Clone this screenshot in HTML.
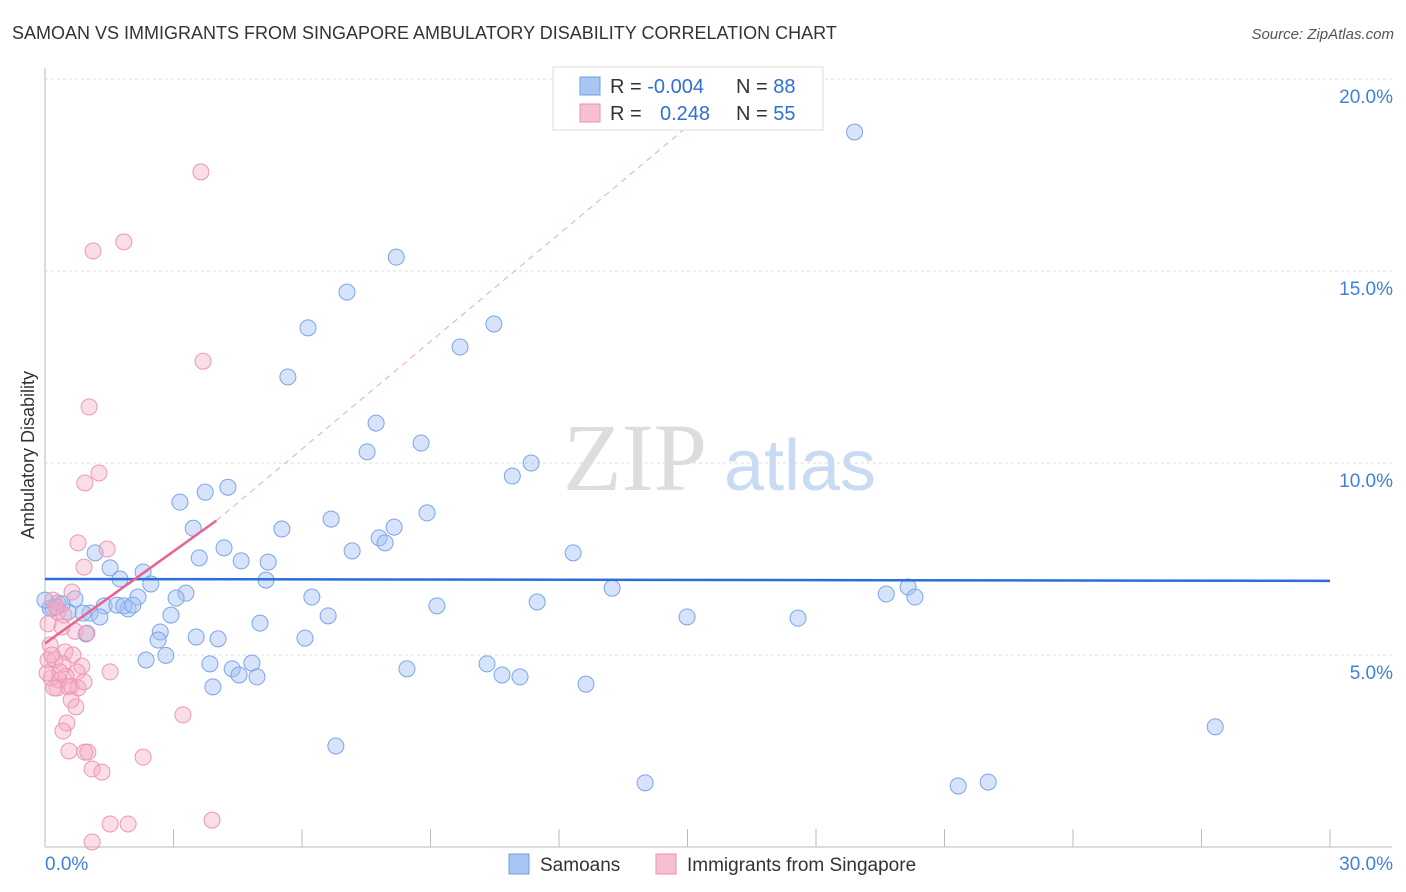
<!DOCTYPE html>
<html><head><meta charset="utf-8"><style>
body{margin:0;background:#fff;font-family:"Liberation Sans",sans-serif;}
svg{display:block}
</style></head><body>
<svg id="chart" width="1406" height="892" xmlns="http://www.w3.org/2000/svg">
<text x="12" y="39" font-size="18" fill="#333">SAMOAN VS IMMIGRANTS FROM SINGAPORE AMBULATORY DISABILITY CORRELATION CHART</text>
<text x="1394" y="39" font-size="15" fill="#555" font-style="italic" text-anchor="end">Source: ZipAtlas.com</text>
<text x="635" y="490" font-size="96" fill="#ddd" font-family="Liberation Serif,serif" text-anchor="middle">ZIP</text>
<text x="800" y="490" font-size="72" fill="#c9daf3" text-anchor="middle">atlas</text>
<text transform="translate(34,455) rotate(-90)" font-size="18" fill="#333" text-anchor="middle">Ambulatory Disability</text>
<g id="grid"></g><g id="marks"></g>
<g>
<rect x="553" y="67" width="270" height="63" fill="#fff" stroke="#ddd"/>
<rect x="580" y="77" width="20" height="18" fill="#a9c6f2" stroke="#6f9fe0"/>
<rect x="580" y="104" width="20" height="18" fill="#f6bfd2" stroke="#e890b0"/>
<text x="610" y="93" font-size="20" fill="#333">R = <tspan fill="#2f6fd6">-0.004</tspan><tspan x="736">N = </tspan><tspan fill="#2f6fd6">88</tspan></text>
<text x="610" y="120" font-size="20" fill="#333">R = <tspan x="660" fill="#2f6fd6">0.248</tspan><tspan x="736">N = </tspan><tspan fill="#2f6fd6">55</tspan></text>
</g>
<g>
<rect x="509" y="854" width="20" height="20" fill="#a9c6f2" stroke="#6f9fe0"/>
<text x="540" y="871" font-size="19" fill="#333">Samoans</text>
<rect x="656" y="854" width="20" height="20" fill="#f6bfd2" stroke="#e890b0"/>
<text x="687" y="871" font-size="19" fill="#333">Immigrants from Singapore</text>
</g>
</svg>
<script>
const xTicks=[0,30];
const yTicks=[5,10,15,20];
const samoanX=[18.9,8.2,7.05,6.14,10.48,9.69,5.67,7.73,8.78,7.52,11.35,10.91,4.27,3.74,3.15,8.92,6.68,3.46,5.53,8.15,7.8,7.94,7.17,12.33,4.18,3.6,4.58,5.21,1.17,1.52,2.29,1.75,2.47,5.16,2.17,3.29,3.06,13.24,20.15,19.64,20.31,6.23,11.49,9.15,0.7,0.3,0.19,0.54,1.05,1.38,1.68,1.94,1.84,2.05,0.89,1.28,2.94,6.61,14.99,17.58,5.02,2.69,0.96,2.64,3.53,4.04,6.07,2.82,2.36,4.83,3.85,4.37,4.53,4.95,10.32,8.45,10.67,11.09,3.92,12.63,27.32,6.79,14.01,21.32,22.02,0.12,0,0.4];
const samoanY=[18.62,15.36,14.45,13.52,13.62,13.02,12.24,11.04,10.52,10.29,10.0,9.66,9.37,9.24,8.98,8.7,8.54,8.3,8.28,8.33,8.05,7.92,7.71,7.66,7.79,7.53,7.45,7.42,7.66,7.27,7.16,6.98,6.85,6.95,6.51,6.61,6.48,6.74,6.77,6.59,6.51,6.51,6.38,6.28,6.46,6.35,6.22,6.12,6.09,6.28,6.3,6.2,6.28,6.3,6.09,5.99,6.04,6.02,5.99,5.96,5.83,5.6,5.55,5.39,5.47,5.42,5.44,4.99,4.87,4.79,4.77,4.64,4.48,4.43,4.77,4.64,4.48,4.43,4.17,4.24,3.13,2.63,1.67,1.59,1.69,6.22,6.43,6.33];
const singX=[3.64,1.84,1.12,3.69,1.03,1.26,0.93,0.77,1.45,0.91,0.63,0.19,0.30,0.44,0.07,0.40,0.70,0.98,0.12,0.47,0.65,0.07,0.23,0.42,0.86,0.75,1.52,0.49,0.14,0.33,0.61,0.77,0.91,0.28,0.54,0.61,0.72,0.51,0.42,0.56,0.93,1.0,2.29,1.10,1.33,3.22,1.52,1.94,3.90,1.10,0.16,0.05,0.21,0.35,0.26];
const singY=[17.58,15.76,15.52,12.65,11.46,9.74,9.48,7.92,7.76,7.29,6.64,6.43,6.12,6.04,5.81,5.73,5.62,5.57,5.26,5.08,5.0,4.87,4.87,4.77,4.71,4.56,4.56,4.45,4.4,4.35,4.19,4.14,4.3,4.14,4.17,3.83,3.65,3.23,3.02,2.5,2.47,2.47,2.34,2.03,1.95,3.44,0.60,0.60,0.70,0.13,5.0,4.53,4.14,4.56,6.25];
const blueLine=[6.98,6.93];
const pinkLine=[5.3,8.5];
const pinkExt=[14.9,18.67];
const X0=45,X1=1330,Y0=847,Y20=79;
const xs=v=>X0+(X1-X0)*v/30;
const ys=v=>Y0-(Y0-Y20)*v/20;
const NS="http://www.w3.org/2000/svg";
function mk(t,a,p){const e=document.createElementNS(NS,t);for(const k in a)e.setAttribute(k,a[k]);p.appendChild(e);return e;}
const grid=document.getElementById('grid'),marks=document.getElementById('marks');
yTicks.forEach(v=>{
 const l=mk('line',{x1:45,x2:1392,y1:ys(v),y2:ys(v),stroke:'#ddd','stroke-dasharray':'3,3'},grid);
 
 
 const t=mk('text',{x:1393,y:ys(v)+24,'font-size':19,fill:'#3f7fe0','text-anchor':'end'},grid);
 t.textContent=v.toFixed(1)+'%';
 
 
});
mk('line',{x1:45,x2:45,y1:68,y2:847,stroke:'#bbb'},grid);
mk('line',{x1:45,x2:1392,y1:847,y2:847,stroke:'#bbb'},grid);
for(let i=0;i<=10;i++){mk('line',{x1:xs(i*3),x2:xs(i*3),y1:829,y2:847,stroke:'#bbb'},grid);}
xTicks.forEach((v,i)=>{
 const t=mk('text',{x:i==0?45:1393,y:870,'font-size':19,fill:'#3f7fe0','text-anchor':i==0?'start':'end'},grid);
 t.textContent=v.toFixed(1)+'%';
 
 
});
samoanX.forEach((x,i)=>{
 const c=mk('circle',{cx:xs(x),cy:ys(samoanY[i]),r:8,fill:'rgba(164,194,244,0.45)',stroke:'#7aa6e6','stroke-width':1},marks);
 
 
});
singX.forEach((x,i)=>{
 const c=mk('circle',{cx:xs(x),cy:ys(singY[i]),r:8,fill:'rgba(244,170,195,0.4)',stroke:'#eb98b6','stroke-width':1},marks);
 
 
});
const bl=mk('line',{x1:xs(0),y1:ys(blueLine[0]),x2:xs(30),y2:ys(blueLine[1]),stroke:'#2b6fd6','stroke-width':2.5},marks);


const pd=mk('line',{x1:xs(4),y1:ys(pinkLine[1]),x2:xs(pinkExt[0]),y2:ys(pinkExt[1]),stroke:'#f0a5c0','stroke-width':1,'stroke-dasharray':'6,5'},marks);


const pl=mk('line',{x1:xs(0),y1:ys(pinkLine[0]),x2:xs(4),y2:ys(pinkLine[1]),stroke:'#e8638f','stroke-width':2.5},marks);


</script>
</body></html>
